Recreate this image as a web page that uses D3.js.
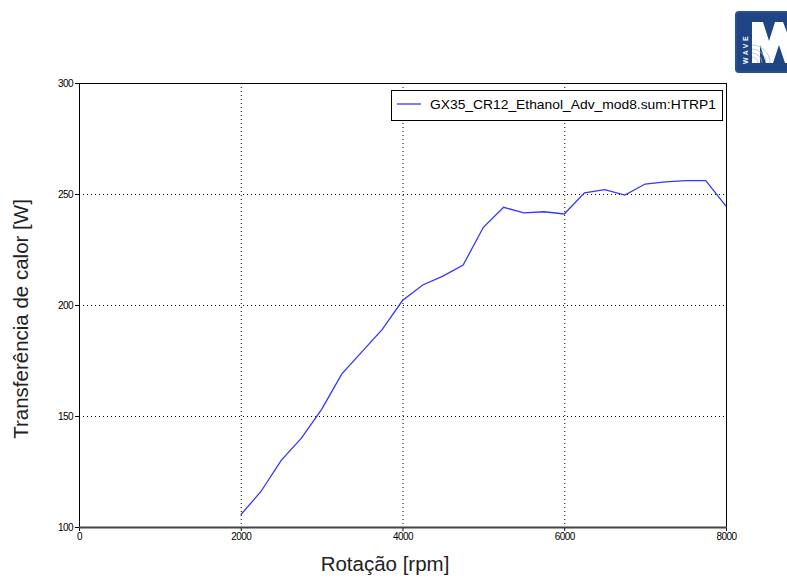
<!DOCTYPE html>
<html>
<head>
<meta charset="utf-8">
<script src="https://cdn.jsdelivr.net/npm/d3@7"></script>
<style>
  html, body { margin: 0; padding: 0; background: #fff; }
  svg { display: block; font-family: "Liberation Sans", Arial, sans-serif; }
</style>
</head>
<body>
<svg id="chart" width="787" height="579"></svg>
<script>
// Engine speed [rpm] and heat transfer [W]
const rpm = [2000, 2250, 2500, 2750, 3000, 3250, 3500, 3750, 4000, 4250, 4500, 4750,
             5000, 5250, 5500, 5750, 6000, 6250, 6500, 6750, 7000, 7250, 7500, 7750, 8000];
const heatTransfer = [105.5, 116, 130, 140, 153, 169, 179, 189, 202, 209, 213, 218,
                      235, 244, 241.5, 242, 241, 250.5, 252, 249.5, 254.5, 255.5, 256, 256, 244.5];
const xTicks = [0, 2000, 4000, 6000, 8000];
const yTicks = [100, 150, 200, 250, 300];
const seriesName = "GX35_CR12_Ethanol_Adv_mod8.sum:HTRP1";
const xTitle = "Rotação [rpm]";
const yTitle = "Transferência de calor [W]";

const svg = d3.select("#chart");
const plot = { left: 79, right: 726, top: 83, bottom: 527 };

const x = d3.scaleLinear().domain([0, 8000]).range([plot.left, plot.right]);
const y = d3.scaleLinear().domain([100, 300]).range([plot.bottom, plot.top]);

// dotted grid
const grid = svg.append("g").attr("stroke", "#000").attr("stroke-width", 1)
  .attr("stroke-dasharray", "1,3");
xTicks.filter(d => d > 0 && d < 8000).forEach(d => {
  grid.append("line").attr("x1", x(d) + 0.5).attr("x2", x(d) + 0.5)
    .attr("y1", plot.top).attr("y2", plot.bottom);
});
yTicks.filter(d => d > 100 && d < 300).forEach(d => {
  grid.append("line").attr("y1", Math.round(y(d)) + 0.5).attr("y2", Math.round(y(d)) + 0.5)
    .attr("x1", plot.left).attr("x2", plot.right);
});

// axes
const xAxis = d3.axisBottom(x).tickValues(xTicks).tickSize(4).tickSizeOuter(0)
  .tickFormat(d3.format("d")).tickPadding(2);
const yAxis = d3.axisLeft(y).tickValues(yTicks).tickSize(4).tickSizeOuter(0)
  .tickFormat(d3.format("d")).tickPadding(2);

const gx = svg.append("g").attr("transform", `translate(0,${plot.bottom})`).call(xAxis);
const gy = svg.append("g").attr("transform", `translate(${plot.left},0)`).call(yAxis);
[gx, gy].forEach(g => {
  g.select(".domain").remove();
  g.selectAll("line").attr("stroke", "#000");
  g.selectAll("text").attr("font-size", 10).attr("fill", "#000")
    .attr("letter-spacing", "-0.6px").attr("font-family", "'Liberation Sans', Arial, sans-serif");
});
gy.selectAll("text").attr("dy", "0.35em");

// frame
svg.append("rect").attr("x", plot.left + 0.5).attr("y", plot.top + 0.5)
  .attr("width", plot.right - plot.left).attr("height", plot.bottom - plot.top)
  .attr("fill", "none").attr("stroke", "#000").attr("stroke-width", 1);
svg.append("line").attr("x1", plot.left).attr("x2", plot.right + 1)
  .attr("y1", plot.bottom + 0.5).attr("y2", plot.bottom + 0.5)
  .attr("stroke", "#444").attr("stroke-width", 2);

// data line
const line = d3.line().x((d, i) => x(rpm[i])).y(d => y(d));
svg.append("path").datum(heatTransfer).attr("d", line)
  .attr("fill", "none").attr("stroke", "#3636ff").attr("stroke-width", 1.3);

// legend
const lg = svg.append("g");
lg.append("rect").attr("x", 391.5).attr("y", 90.5).attr("width", 331).attr("height", 30)
  .attr("fill", "#fff").attr("stroke", "#000").attr("stroke-width", 1);
lg.append("line").attr("x1", 397).attr("x2", 421).attr("y1", 104).attr("y2", 104)
  .attr("stroke", "#3636ff").attr("stroke-width", 1.3);
lg.append("text").attr("x", 430).attr("y", 109).attr("font-size", 13)
  .attr("textLength", 286).attr("lengthAdjust", "spacingAndGlyphs")
  .attr("fill", "#000").text(seriesName);

// axis titles
svg.append("text").attr("x", 385).attr("y", 571).attr("text-anchor", "middle")
  .attr("font-size", 20.5).attr("fill", "#222").text(xTitle);
svg.append("text").attr("transform", "translate(28,319) rotate(-90)")
  .attr("text-anchor", "middle").attr("font-size", 20.5).attr("fill", "#222").text(yTitle);

// WAVE badge
const logo = svg.append("g").attr("transform", "translate(735,11)");
logo.append("rect").attr("x", 0).attr("y", 0).attr("width", 60).attr("height", 62)
  .attr("rx", 4).attr("fill", "#2a4f8f");
logo.append("rect").attr("x", 2).attr("y", 2).attr("width", 58).attr("height", 58)
  .attr("rx", 3).attr("fill", "#1f4585");
logo.append("text").attr("transform", "translate(13,53) rotate(-90)")
  .attr("font-size", 7).attr("font-weight", "bold").attr("fill", "#fff")
  .attr("letter-spacing", "2.5px").text("WAVE");
logo.append("path")
  .attr("d", "M17,11 L28,11 L34,30 L40,11 L48,11 L56,32 L56,52 L50,52 L44,34 L38,52 L31,52 L25,34 L25,52 L17,52 Z")
  .attr("fill", "#fff");
logo.append("g").attr("fill", "none").attr("stroke", "#9fb4d6").attr("stroke-width", 0.7)
  .selectAll("path").data([6, 10, 14, 18]).join("path")
  .attr("d", r => `M${17 + r},52 A${r},${r} 0 0 0 17,${52 - r}`);
</script>
</body>
</html>
